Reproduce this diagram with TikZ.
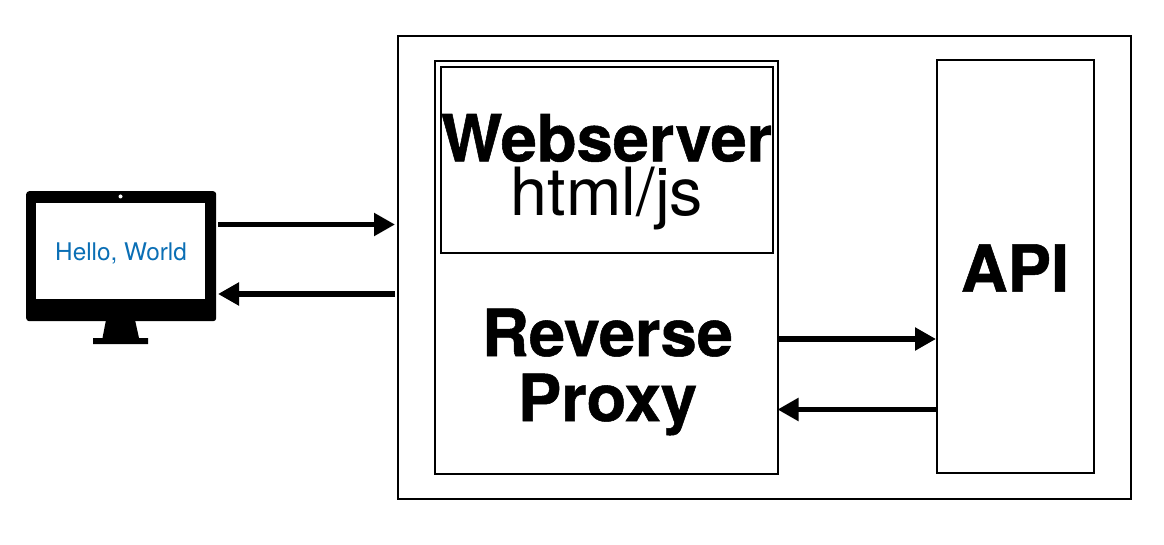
\documentclass[tikz,border=0pt]{standalone}
\usepackage{fontspec}
\setmainfont{TeX Gyre Heros}[BoldFeatures={FakeBold=0.8}]
\usetikzlibrary{arrows.meta}
\definecolor{hello}{HTML}{0B6FB5}
\tikzset{
  x=1pt,y=-1pt,
  box/.style={draw=black,line width=2pt,minimum width=#1,inner sep=0pt,anchor=north west},
  arr/.style={line width=5.5pt,-{Triangle[length=21pt,width=22pt]}},
  title/.style={font=\fontsize{65}{65}\selectfont\bfseries,align=center,inner sep=0pt},
}
\begin{document}
\begin{tikzpicture}
\useasboundingbox (0,0) rectangle (1164,545);
\node[box=733pt,minimum height=463pt] (outer) at (397,35) {};
\node[box=343pt,minimum height=413pt] (proxy) at (434,60) {};
\node[box=332pt,minimum height=186pt] (web) at (440,66) {};
\node[box=157pt,minimum height=413pt] (api) at (936,59) {};
\node[title] (webt) at (606.5,138) {Webserver};
\node[font=\fontsize{66.5}{60}\selectfont,inner sep=0pt] (html) at (607,198.5) {html/js};
\node[title] (rp) at (607.5,372) {Reverse\\Proxy};
\node[title] (apit) at (1015,268) {API};
% monitor
\node[fill=black,rounded corners=3pt,minimum width=190pt,minimum height=130pt,inner sep=0pt,anchor=north west] (monitor) at (26,191) {};
\node[fill=white,minimum width=169pt,minimum height=96pt,inner sep=0pt,anchor=north west] (screen) at (36,203) {};
\fill[white] (120.5,196.5) circle (2);
\fill[black] (106,320) -- (135,320) -- (139,338) -- (148,338) -- (148,344) -- (93,344) -- (93,338) -- (102.5,338) -- cycle;
\node[text=hello,font=\fontsize{24.3}{24}\selectfont,inner sep=0pt] (hello) at (121,253.5) {Hello, World};
% connectors
\coordinate (a) at (218,224.5); \coordinate (b) at (218,294);
\coordinate (c) at (395,224.5); \coordinate (d) at (395,294);
\draw[arr] (a) -- (c);
\draw[arr] (d) -- (b);
\coordinate (e) at (proxy.east |- 0,339); \coordinate (f) at (proxy.east |- 0,409.5);
\draw[arr] (e) -- (e -| api.west);
\draw[arr,shorten >=-1.5pt] (f -| api.west) -- (f);
\end{tikzpicture}
\end{document}
